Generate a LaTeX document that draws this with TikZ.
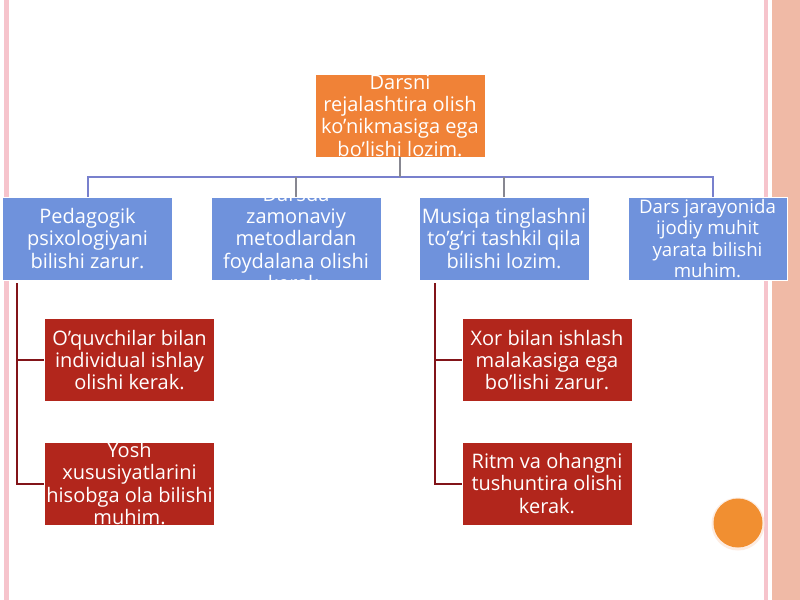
\documentclass[tikz,border=0pt]{standalone}
\usepackage{fontspec}
\setmainfont{Open Sans}
\usetikzlibrary{positioning}

\definecolor{topfill}{RGB}{240,130,55}
\definecolor{midfill}{RGB}{111,146,220}
\definecolor{lowfill}{RGB}{178,38,28}
\definecolor{barline}{RGB}{120,128,205}
\definecolor{dropline}{RGB}{135,135,145}
\definecolor{lowline}{RGB}{130,20,25}
\definecolor{stripepink}{RGB}{246,196,204}
\definecolor{stripesalmon}{RGB}{240,186,166}

\begin{document}
\begin{tikzpicture}[
    x=0.75pt, y=-0.75pt,
    box/.style={
        rectangle,
        draw=white,
        line width=0.4pt,
        minimum width=127.5pt,
        minimum height=62.25pt,
        inner sep=0pt,
        align=center,
        text=white,
        font=\fontsize{15}{16.8}\selectfont,
    },
    topbox/.style={box, fill=topfill},
    midbox/.style={box, fill=midfill},
    lowbox/.style={box, fill=lowfill},
    bar/.style={barline, line width=1.5pt},
    drop/.style={dropline, line width=1.5pt},
    twig/.style={lowline, line width=1.5pt},
]
    \useasboundingbox (0,0) rectangle (800,600);
    \fill[white] (0,0) rectangle (800,600);

    % Page stripes
    \fill[stripepink] (4,0) rectangle (9,600);
    \fill[stripepink] (764,0) rectangle (768,600);
    \fill[stripesalmon] (772,0) rectangle (800,600);

    % Top
    \node[topbox] (plan) at (400,115.5)
        {Darsni\\rejalashtira olish\\ko’nikmasiga ega\\bo’lishi lozim.};

    % Second row
    \node[midbox] (pedag) at (87.5,238.5)
        {Pedagogik\\psixologiyani\\bilishi zarur.};
    \node[midbox] (metod) at (296,238.5) {};
    \begin{scope}
        \clip (211,192) rectangle (381,283);
        \node[align=center, text=white, font=\fontsize{15}{16.8}\selectfont]
            at (metod.center)
            {Darsda\\zamonaviy\\metodlardan\\foydalana olishi\\kerak.};
    \end{scope}
    \node[midbox] (musiq) at (504,238.5)
        {Musiqa tinglashni\\to’g’ri tashkil qila\\bilishi lozim.};
    \node[midbox, minimum width=119.25pt,
        font=\fontsize{14}{16}\selectfont] (ijod) at (707.5,238.5)
        {Dars jarayonida\\ijodiy muhit\\yarata bilishi\\muhim.};

    % Third row
    \node[lowbox] (oquv) at (129.5,360)
        {O’quvchilar bilan\\individual ishlay\\olishi kerak.};
    \node[lowbox] (yosh) at (129.5,483.5)
        {Yosh\\xususiyatlarini\\hisobga ola bilishi\\muhim.};
    \node[lowbox] (xor) at (547,360)
        {Xor bilan ishlash\\malakasiga ega\\bo’lishi zarur.};
    \node[lowbox] (ritm) at (547,483.5)
        {Ritm va ohangni\\tushuntira olishi\\kerak.};

    % Connectors
    \coordinate (barL) at (87.5,177);
    \coordinate (barR) at (713,177);
    \draw[bar] (pedag.north) -- (barL) -- (barR) -- (barR |- ijod.north);
    \draw[drop] (plan.south) -- (plan.south |- barL);
    \draw[drop] (metod.north |- barL) -- (metod.north);
    \draw[drop] (musiq.north |- barL) -- (musiq.north);

    \coordinate (twigA) at (17,283);
    \coordinate (twigB) at (435,283);
    \draw[twig] (twigA) |- (yosh.west);
    \draw[twig] (twigA |- oquv.west) -- (oquv.west);
    \draw[twig] (twigB) |- (ritm.west);
    \draw[twig] (twigB |- xor.west) -- (xor.west);

    % Orange dot
    \fill[topfill!15] (738,524) circle[radius=26.5];
    \fill[topfill!90!yellow] (738,523) circle[radius=24.5];
\end{tikzpicture}
\end{document}
